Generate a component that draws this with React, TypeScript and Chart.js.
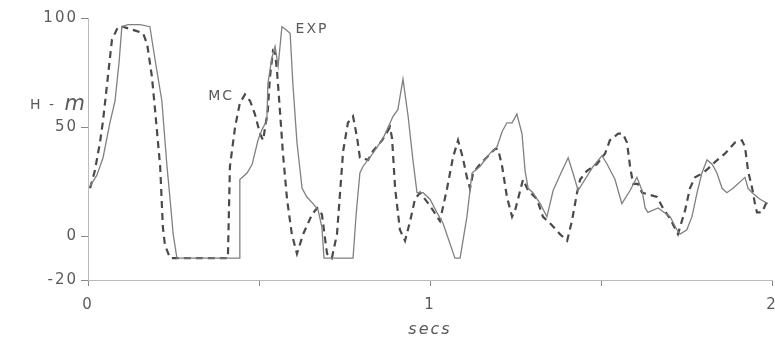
import { useEffect, useRef } from "react";
import { Chart, registerables } from "chart.js";

Chart.register(...registerables);

// EXP (solid) – time in seconds, H in m
const expT = [0.006, 0.026, 0.044, 0.064, 0.079, 0.091, 0.099, 0.117, 0.152, 0.181, 0.196, 0.216, 0.231, 0.24, 0.249, 0.26,
  0.442, 0.444, 0.465, 0.48, 0.497, 0.509, 0.523, 0.526, 0.538, 0.547, 0.556, 0.567, 0.576, 0.591, 0.599, 0.611, 0.626, 0.64,
  0.658, 0.673, 0.684, 0.69, 0.775, 0.784, 0.795, 0.804, 0.833, 0.863, 0.892, 0.906, 0.921, 0.936, 0.95, 0.962, 0.98, 1.0,
  1.02, 1.038, 1.073, 1.088, 1.108, 1.123, 1.146, 1.175, 1.196, 1.211, 1.225, 1.24, 1.254, 1.269, 1.278, 1.287, 1.301, 1.322,
  1.342, 1.36, 1.38, 1.404, 1.418, 1.433, 1.453, 1.477, 1.503, 1.518, 1.541, 1.55, 1.561, 1.585, 1.605, 1.62, 1.629, 1.637,
  1.667, 1.693, 1.702, 1.722, 1.731, 1.751, 1.766, 1.781, 1.795, 1.81, 1.825, 1.839, 1.854, 1.868, 1.886, 1.921, 1.93, 1.942,
  1.965, 1.988];
const expH = [23, 28, 36, 52, 62, 80, 96, 97, 97, 96, 81, 62, 32, 17, 1, -10,
  -10, 26, 29, 33, 44, 49, 53, 70, 82, 87, 78, 96, 95, 93, 70, 43, 22, 18,
  15, 12, 4, -10, -10, 10, 29, 32, 38, 45, 55, 58, 72, 55, 35, 20, 20, 17,
  11, 6, -10, -10, 9, 29, 32, 38, 41, 48, 52, 52, 56, 47, 30, 22, 20, 15,
  9, 21, 28, 36, 29, 21, 26, 32, 37, 33, 26, 21, 15, 21, 27, 21, 13, 11,
  13, 10, 9, 3, 1, 3, 9, 20, 29, 35, 33, 29, 22, 20, 22, 27, 22, 20,
  17, 15];

// MC (dashed)
const mcT = [0.006, 0.02, 0.035, 0.044, 0.056, 0.07, 0.088, 0.102, 0.143, 0.161, 0.173, 0.187, 0.196, 0.211, 0.219, 0.225, 0.24,
  0.409, 0.415, 0.43, 0.444, 0.459, 0.474, 0.488, 0.503, 0.512, 0.526, 0.532, 0.541, 0.547, 0.553, 0.561, 0.57, 0.582, 0.596,
  0.611, 0.629, 0.655, 0.67, 0.684, 0.699, 0.713, 0.728, 0.746, 0.76, 0.775, 0.787, 0.795, 0.819, 0.833, 0.86, 0.883, 0.889,
  0.898, 0.912, 0.927, 0.942, 0.956, 0.971, 1.0, 1.029, 1.05, 1.067, 1.082, 1.096, 1.108, 1.117, 1.126, 1.146, 1.19, 1.199,
  1.211, 1.225, 1.24, 1.249, 1.272, 1.287, 1.313, 1.33, 1.351, 1.38, 1.401, 1.415, 1.43, 1.439, 1.459, 1.488, 1.512, 1.526,
  1.55, 1.564, 1.576, 1.585, 1.594, 1.608, 1.62, 1.643, 1.664, 1.681, 1.702, 1.725, 1.746, 1.76, 1.775, 1.798, 1.813, 1.833,
  1.863, 1.892, 1.912, 1.921, 1.93, 1.942, 1.95, 1.956, 1.971, 1.988];
const mcH = [22, 30, 43, 53, 70, 90, 96, 96, 94, 93, 88, 73, 58, 32, 4, -4, -10,
  -10, 32, 50, 61, 65, 62, 56, 47, 44, 58, 73, 85, 84, 75, 58, 38, 17, 1,
  -8, 1, 10, 13, 10, -8, -10, 1, 39, 52, 55, 45, 36, 35, 39, 44, 50, 45,
  22, 3, -2, 7, 17, 20, 14, 7, 22, 36, 44, 36, 27, 22, 29, 33, 40, 40,
  32, 18, 9, 12, 26, 21, 17, 9, 6, 1, -2, 7, 20, 26, 30, 33, 38, 44,
  47, 47, 43, 32, 24, 24, 20, 19, 18, 13, 8, 1, 12, 22, 27, 29, 31, 34,
  38, 43, 44, 41, 30, 22, 15, 11, 11, 17];

const yTicks = [-20, 0, 50, 100];
const xTicks = [0, 0.5, 1, 1.5, 2];
const xTickLabels = ["0", "", "1", "", "2"];
const xTitle = "secs";
const seriesLabels = ["EXP", "MC"];
// annotation anchors (seconds, metres)
const mcLabelAt = [0.427, 64];
const expLabelAt = [0.607, 95];
const yLabelAt = 60;

const FONT = '"DejaVu Sans", "Liberation Sans", sans-serif';
const TEXT = "#5a5a5a";

export default function App() {
  const ref = useRef<HTMLCanvasElement | null>(null);

  useEffect(() => {
    if (!ref.current) return;
    const textPlugin = {
      id: "texts",
      beforeDraw(chart: any) {
        chart.ctx.letterSpacing = "2px";
      },
      afterDatasetsDraw(chart: any) {
        const { ctx, scales } = chart;
        const x = scales.x, y = scales.y;
        ctx.save();
        ctx.fillStyle = TEXT;
        ctx.textBaseline = "middle";
        // y label
        const yy = y.getPixelForValue(yLabelAt);
        ctx.letterSpacing = "2px";
        ctx.font = `14px ${FONT}`;
        ctx.textAlign = "left";
        ctx.fillText("H -", 30, yy);
        const w = ctx.measureText("H - ").width;
        ctx.letterSpacing = "0px";
        ctx.font = `italic 21px ${FONT}`;
        ctx.fillText("m", 30 + w + 2, yy - 1);
        // series labels
        ctx.letterSpacing = "2px";
        ctx.font = `14px ${FONT}`;
        ctx.textAlign = "right";
        ctx.fillText(seriesLabels[1], x.getPixelForValue(mcLabelAt[0]), y.getPixelForValue(mcLabelAt[1]));
        ctx.textAlign = "left";
        ctx.fillText(seriesLabels[0], x.getPixelForValue(expLabelAt[0]), y.getPixelForValue(expLabelAt[1]));
        ctx.restore();
      },
      afterDraw(chart: any) {
        chart.ctx.letterSpacing = "0px";
      },
    };

    const chart = new Chart(ref.current, {
      type: "line",
      data: {
        datasets: [
          {
            label: seriesLabels[0],
            data: expT.map((t, i) => ({ x: t, y: expH[i] })),
            borderColor: "#808080",
            borderWidth: 1.3,
            pointRadius: 0,
            tension: 0,
          },
          {
            label: seriesLabels[1],
            data: mcT.map((t, i) => ({ x: t, y: mcH[i] })),
            borderColor: "#4a4a4a",
            borderWidth: 2.2,
            borderDash: [7, 5],
            pointRadius: 0,
            tension: 0,
          },
        ],
      },
      options: {
        responsive: false,
        animation: false,
        layout: { padding: { top: 18, right: 3, left: 0, bottom: 0 } },
        plugins: { legend: { display: false }, tooltip: { enabled: false } },
        scales: {
          x: {
            type: "linear",
            min: 0,
            max: 2,
            afterBuildTicks: (s: any) => { s.ticks = xTicks.map((v) => ({ value: v })); },
            afterFit: (s: any) => { s.height = 65; s.paddingLeft = 0; s.paddingRight = 0; },
            ticks: {
              autoSkip: false,
              maxRotation: 0,
              padding: 10,
              color: TEXT,
              font: { family: FONT, size: 15 },
              callback: (v: any) => xTickLabels[xTicks.indexOf(Number(v))] ?? "",
            },
            grid: { drawOnChartArea: false, drawTicks: true, tickLength: 6, color: "#888" },
            border: { display: true, color: "#bbb", dash: [2, 4], width: 1 },
            title: {
              display: true,
              text: xTitle,
              color: TEXT,
              font: { family: FONT, size: 16, style: "italic" },
              padding: { top: 0, bottom: 6 },
            },
          },
          y: {
            type: "linear",
            min: -20,
            max: 100,
            afterBuildTicks: (s: any) => { s.ticks = yTicks.map((v) => ({ value: v })); },
            afterFit: (s: any) => { s.width = 88; s.paddingTop = 0; s.paddingBottom = 0; },
            ticks: {
              padding: 3,
              color: TEXT,
              font: { family: FONT, size: 15 },
            },
            grid: { drawOnChartArea: false, drawTicks: true, tickLength: 7, color: "#888" },
            border: { display: true, color: "#bbb", dash: [2, 4], width: 1 },
          },
        },
      },
      plugins: [textPlugin],
    });
    return () => chart.destroy();
  }, []);

  return (
    <canvas
      ref={ref}
      width={775}
      height={345}
      style={{ position: "fixed", left: 0, top: 0, width: 775, height: 345, display: "block", background: "#fff" }}
    />
  );
}
